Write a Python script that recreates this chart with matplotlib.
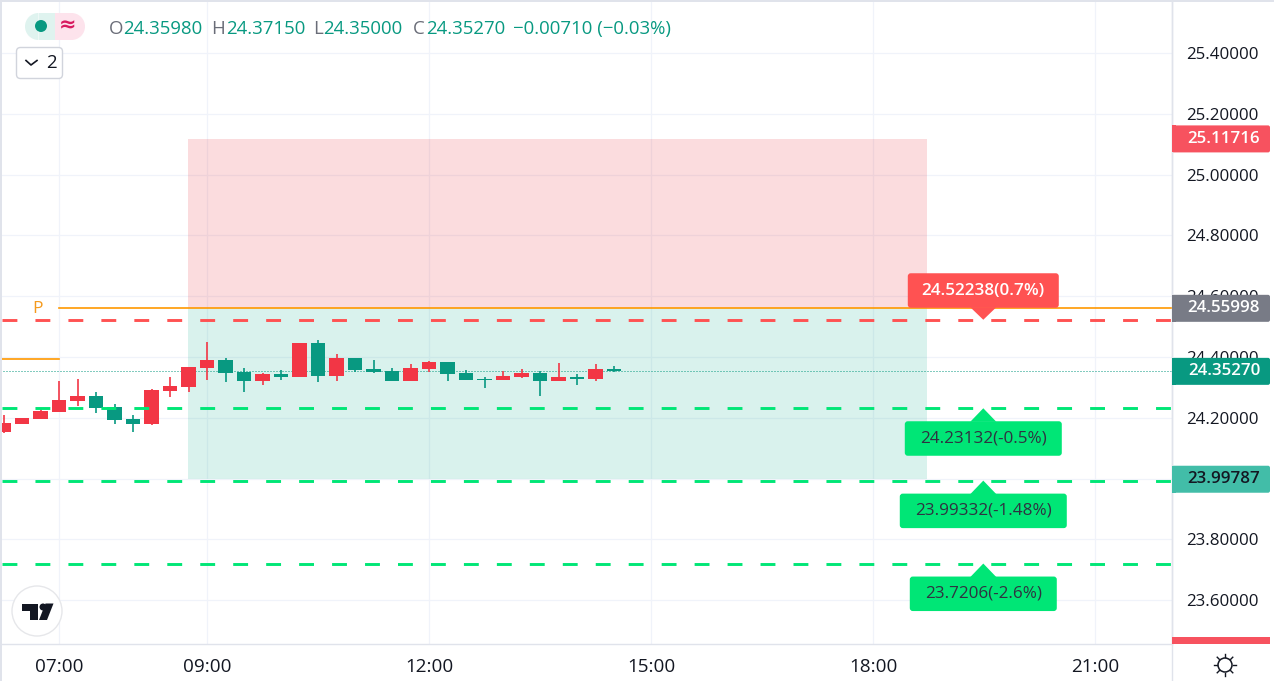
import matplotlib
matplotlib.use('Agg')
import matplotlib.pyplot as plt
from matplotlib.patches import FancyBboxPatch, Polygon, Circle, Rectangle, Wedge
import numpy as np

plt.rcParams['font.family'] = ['Open Sans', 'DejaVu Sans']

# candles, 15 minute bars, time in hours
times = [6.25, 6.5, 6.75, 7.0, 7.25, 7.5, 7.75, 8.0, 8.25, 8.5, 8.75, 9.0, 9.25, 9.5, 9.75, 10.0, 10.25,
         10.5, 10.75, 11.0, 11.25, 11.5, 11.75, 12.0, 12.25, 12.5, 12.75, 13.0, 13.25, 13.5, 13.75, 14.0, 14.25, 14.5]
opens = [24.153, 24.180, 24.196, 24.219, 24.255, 24.272, 24.236, 24.196, 24.180, 24.288, 24.301, 24.364, 24.390,
         24.351, 24.321, 24.344, 24.334, 24.446, 24.338, 24.397, 24.361, 24.354, 24.321, 24.361, 24.384, 24.347,
         24.328, 24.324, 24.334, 24.347, 24.321, 24.334, 24.328, 24.3598]
closes = [24.183, 24.199, 24.222, 24.258, 24.272, 24.232, 24.193, 24.180, 24.291, 24.305, 24.367, 24.390, 24.347,
          24.321, 24.344, 24.334, 24.446, 24.338, 24.397, 24.357, 24.351, 24.321, 24.364, 24.384, 24.344, 24.324,
          24.324, 24.338, 24.347, 24.321, 24.334, 24.328, 24.361, 24.3527]
highs = [24.209, 24.199, 24.230, 24.321, 24.328, 24.285, 24.245, 24.209, 24.295, 24.334, 24.367, 24.449, 24.397,
         24.364, 24.347, 24.357, 24.446, 24.456, 24.410, 24.397, 24.390, 24.364, 24.377, 24.387, 24.384, 24.357,
         24.334, 24.354, 24.361, 24.354, 24.380, 24.344, 24.377, 24.3715]
lows = [24.151, 24.180, 24.196, 24.219, 24.239, 24.216, 24.180, 24.153, 24.176, 24.268, 24.285, 24.324, 24.318,
        24.285, 24.308, 24.324, 24.334, 24.318, 24.321, 24.351, 24.347, 24.321, 24.321, 24.352, 24.321, 24.324,
        24.298, 24.324, 24.331, 24.272, 24.321, 24.308, 24.321, 24.35]

price_ticks = [25.4, 25.2, 25.0, 24.8, 24.6, 24.4, 24.2, 24.0, 23.8, 23.6]
time_ticks = [7, 9, 12, 15, 18, 21]
time_labels = ['07:00', '09:00', '12:00', '15:00', '18:00', '21:00']

entry = 24.55998
target_top = 25.11716
stop_bottom = 23.99787
last_close = 24.3527
old_pivot = 24.394
zone_start = 8.74
zone_end = 18.73

red_level = 24.52238
red_text = '24.52238(0.7%)'
green_levels = [24.23132, 23.99332, 23.7206]
green_texts = ['24.23132(-0.5%)', '23.99332(-1.48%)', '23.7206(-2.6%)']
green_halfw = [78.5, 83.5, 73.5]

UP = '#f23645'
DOWN = '#089981'
GRID = '#f0f3fa'
BORDER = '#e0e3eb'
INK = '#131722'

W, H = 1274, 681
fig = plt.figure(figsize=(W / 100, H / 100), dpi=100)
ax = fig.add_axes([0, 37 / H, 1172 / W, 644 / H])
ax.set_xlim(6.2027, 22.04)
ax.set_ylim(23.456, 25.574)

ax.set_yticks(price_ticks)
ax.set_yticklabels(['%.5f' % p for p in price_ticks], fontsize=12.2, color=INK)
ax.yaxis.tick_right()
ax.tick_params(axis='y', length=0, pad=10.5)
ax.set_xticks(time_ticks)
ax.set_xticklabels(time_labels, fontsize=13.6, color=INK)
ax.tick_params(axis='x', length=0, pad=10)
ax.grid(True, color=GRID, lw=0.9, zorder=0)
ax.set_axisbelow(True)
for s in ['top', 'left']:
    ax.spines[s].set_visible(False)
for s in ['bottom', 'right']:
    ax.spines[s].set_color(BORDER)
    ax.spines[s].set_linewidth(1.0)

# position tool
ax.fill_between([zone_start, zone_end], entry, target_top, color='#e93d48', alpha=0.18, lw=0, zorder=1)
ax.fill_between([zone_start, zone_end], stop_bottom, entry, color='#01aa87', alpha=0.15, lw=0, zorder=1)

ax.axhline(last_close, color=DOWN, lw=0.72, ls=(0, (1, 2)), zorder=2)

# candles
colors = [UP if c >= o else DOWN for o, c in zip(opens, closes)]
ax.vlines(times, lows, highs, colors=colors, lw=1.2, zorder=3)
ax.bar(times, np.abs(np.array(closes) - np.array(opens)), bottom=np.minimum(opens, closes), width=0.2,
       color=colors, lw=0, zorder=4)

# levels
x0 = 6.2027 + 2 / 74
ax.plot([7, 22.04], [entry, entry], color='#ff9800', lw=1.2, zorder=5)
ax.plot([x0, 7], [old_pivot, old_pivot], color='#ff9800', lw=1.2, zorder=5)
ax.plot([x0, 22.04], [red_level, red_level], color='#ff5252', lw=2.1, ls=(0, (5.1, 6.2)), dash_capstyle='butt', zorder=5)
for lv in green_levels:
    ax.plot([x0, 22.04], [lv, lv], color='#00e676', lw=2.1, ls=(0, (5.1, 6.2)), dash_capstyle='butt', zorder=5)

# overlay in pixels for the widgets
ov = fig.add_axes([0, 0, 1, 1], zorder=5)
ov.set_xlim(0, W)
ov.set_ylim(H, 0)
ov.axis('off')


def to_px(hour, price):
    return ov.transData.inverted().transform(ax.transData.transform((hour, price)))


def round_box(x1, y1, x2, y2, color, edge='none', r=3, z=6):
    ov.add_patch(FancyBboxPatch((x1 + r, y1 + r), x2 - x1 - 2 * r, y2 - y1 - 2 * r,
                                boxstyle='round,pad=%f,rounding_size=%f' % (r, r),
                                fc=color, ec=edge, lw=1 if edge != 'none' else 0, zorder=z))


def level_label(price, text, halfw, color, tcolor, above, weight='normal'):
    cx, tip = to_px(19.49, price)
    if above:
        y1, y2 = tip - 46.5, tip - 12
        base = tip - 12.5
    else:
        y1, y2 = tip + 13, tip + 47.5
        base = tip + 13.5
    round_box(cx - halfw, y1, cx + halfw, y2, color)
    ov.add_patch(Polygon([(cx - 13, base), (cx + 13, base), (cx, tip)], fc=color, lw=0, zorder=6))
    ov.text(cx, (y1 + y2) / 2, text, color=tcolor, fontsize=12.3, ha='center', va='center', weight=weight, zorder=7)


level_label(red_level, red_text, 75.5, '#ff5252', 'white', True, 'semibold')
for lv, t, hw in zip(green_levels, green_texts, green_halfw):
    level_label(lv, t, hw, '#00e676', '#2f3241', False)

ov.text(37, 309, 'P', color='#f59a1c', fontsize=12.5, ha='center', va='center')


def price_tag(price, text, color, tcolor):
    _, cy = to_px(22.04, price)
    ov.add_patch(FancyBboxPatch((1174, cy - 11.5), 94, 23, boxstyle='round,pad=2,rounding_size=2',
                                fc=color, lw=0, zorder=6))
    ov.add_patch(Rectangle((1172, cy - 13.5), 4, 27, fc=color, lw=0, zorder=6))
    ov.text(1224, cy, text, color=tcolor, fontsize=12.2, ha='center', va='center', weight='semibold', zorder=7)


price_tag(target_top, '25.11716', '#f7525f', 'white')
price_tag(entry, '24.55998', '#787b86', 'white')
price_tag(last_close, '24.35270', DOWN, 'white')
price_tag(stop_bottom, '23.99787', '#42bda8', INK)
ov.add_patch(Rectangle((1172, 637), 98, 7, fc='#f7525f', lw=0, zorder=6))

# legend row
ov.add_patch(Wedge((38.5, 26.5), 13.5, 90, 270, fc='#dff3ef', lw=0, zorder=6))
ov.add_patch(Rectangle((38.5, 13), 16.5, 27, fc='#dff3ef', lw=0, zorder=6))
ov.add_patch(Wedge((71.5, 26.5), 13.5, -90, 90, fc='#fde3ec', lw=0, zorder=6))
ov.add_patch(Rectangle((55, 13), 16.5, 27, fc='#fde3ec', lw=0, zorder=6))
ov.add_patch(Circle((41, 26), 6, fc=DOWN, lw=0, zorder=7))
ov.text(68, 25.5, '≈', color='#d81b60', fontsize=15, ha='center', va='center', weight='bold', zorder=7,
        family=['DejaVu Sans'])

ohlc_labels = ['O', 'H', 'L', 'C']
ohlc_values = ['24.35980', '24.37150', '24.35000', '24.35270']
ohlc_x = [108.5, 211.5, 313, 413]
ohlc_dx = [15, 14.5, 10, 13.5]
for lab, val, xx, dx in zip(ohlc_labels, ohlc_values, ohlc_x, ohlc_dx):
    ov.text(xx, 29, lab, color='#6a6d78', fontsize=13.4, ha='left', va='center', zorder=7)
    ov.text(xx + dx, 29, val, color=DOWN, fontsize=13.4, ha='left', va='center', zorder=7)
ov.text(513, 29, '−0.00710 (−0.03%)', color=DOWN, fontsize=13.4, ha='left', va='center', zorder=7)

# collapse button
round_box(16.5, 47.5, 62.5, 78.5, 'white', edge='#d1d4dc', r=4)
ov.plot([26, 31, 37], [60.5, 65, 60.5], color=INK, lw=1.2, zorder=7)
ov.text(51, 63, '2', color=INK, fontsize=13.4, ha='center', va='center', zorder=7)

# logo
ov.add_patch(Circle((37, 611), 25, fc='white', ec='#e6e7ea', lw=1, zorder=6))
ov.add_patch(Polygon([(21.5, 603.5), (38, 603.5), (38, 620), (29.5, 620), (29.5, 610.5), (21.5, 610.5)], fc=INK, lw=0, zorder=7))
ov.add_patch(Circle((43, 607), 3.5, fc=INK, lw=0, zorder=7))
ov.add_patch(Polygon([(45.5, 603.5), (53.5, 603.5), (47, 620), (39, 620)], fc=INK, lw=0, zorder=7))

# sun icon
ov.add_patch(Circle((1225, 665), 7, fc='white', ec=INK, lw=1.1, zorder=7))
for a in np.arange(0, 360, 45):
    ca, sa = np.cos(np.radians(a)), np.sin(np.radians(a))
    ov.plot([1225 + 8 * ca, 1225 + 11 * ca], [665 + 8 * sa, 665 + 11 * sa], color=INK, lw=1.0, zorder=7)

# outer border
ov.add_patch(Rectangle((0, 0), 2, H, fc=BORDER, lw=0, zorder=8))
ov.add_patch(Rectangle((0, 0), W, 2, fc=BORDER, lw=0, zorder=8))
ov.plot([1172, 1172], [0, H], color=BORDER, lw=1.0, zorder=5)

fig.savefig('out.png', dpi=100)
